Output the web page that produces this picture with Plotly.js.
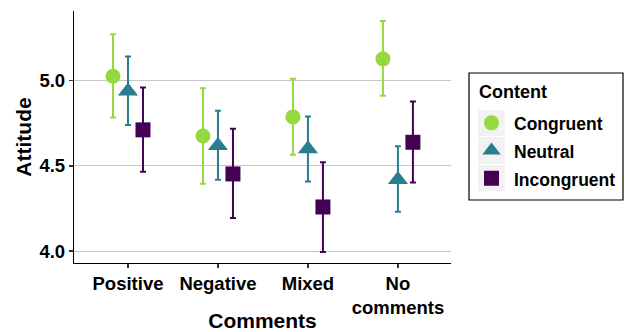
<!DOCTYPE html>
<html><head><meta charset="utf-8">
<script src="https://cdn.plot.ly/plotly-3.0.1.min.js"></script>
<style>html,body{margin:0;padding:0;background:#fff}#chart{width:627px;height:332px}</style>
</head><body><div id="chart"></div>
<script>
var categories = ["Positive", "Negative", "Mixed", "No comments"];
var tickLabels = ["Positive", "Negative", "Mixed", "No<br>comments"];
var contents = ["Congruent", "Neutral", "Incongruent"];
var congruentMean = [5.027, 4.676, 4.788, 5.129];
var congruentHi   = [5.274, 4.957, 5.012, 5.351];
var congruentLo   = [4.784, 4.396, 4.566, 4.912];
var neutralMean = [4.939, 4.619, 4.600, 4.419];
var neutralHi   = [5.143, 4.824, 4.790, 4.615];
var neutralLo   = [4.741, 4.419, 4.409, 4.231];
var incongruentMean = [4.712, 4.453, 4.259, 4.639];
var incongruentHi   = [4.960, 4.718, 4.521, 4.878];
var incongruentLo   = [4.466, 4.194, 3.994, 4.403];

var colors = ["#95D840", "#287D8E", "#440154"];
var symbols = ["circle", "triangle-up", "square"];
var sizes = [15, 17.5, 15];
var dodge = [-1/6, 0, 1/6];
var means = [congruentMean, neutralMean, incongruentMean];
var his = [congruentHi, neutralHi, incongruentHi];
var los = [congruentLo, neutralLo, incongruentLo];

var FONT = "Liberation Sans, Arial, Helvetica, sans-serif";
var traces = contents.map(function(name, k){
  var m = means[k];
  return {
    type: "scatter", mode: "markers",
    name: '<span style="font-size:17.5px">' + name + '</span>',
    x: categories.map(function(c, i){ return i + dodge[k]; }),
    y: m,
    marker: {symbol: symbols[k], size: sizes[k], color: colors[k]},
    error_y: {type: "data", symmetric: false,
      array: his[k].map(function(v, i){ return v - m[i]; }),
      arrayminus: los[k].map(function(v, i){ return m[i] - v; }),
      color: colors[k], thickness: 2, width: 3},
    hoverinfo: "x+y"
  };
});

// legend frame and key backgrounds (pixel boxes converted to paper coords)
function px2x(p){ return (p - 74) / 377; }
function px2y(p){ return (263 - p) / 252; }
var keyRows = [[110, 136], [137, 164], [165, 191]];
var shapes = keyRows.map(function(r){
  return {type: "rect", xref: "paper", yref: "paper", layer: "above",
    x0: px2x(478), x1: px2x(505), y0: px2y(r[1]), y1: px2y(r[0]),
    fillcolor: "#f2f2f2", line: {width: 0}};
});
shapes.push({type: "rect", xref: "paper", yref: "paper", layer: "above",
  x0: px2x(469), x1: px2x(623), y0: px2y(200), y1: px2y(73),
  fillcolor: "rgba(0,0,0,0)", line: {width: 1.2, color: "#000"}});

var layout = {
  width: 627, height: 332,
  margin: {l: 74, r: 176, t: 11, b: 69, autoexpand: false},
  paper_bgcolor: "#fff", plot_bgcolor: "#fff",
  font: {family: FONT, color: "#000"},
  showlegend: true,
  shapes: shapes,
  annotations: [{text: "<b>Content</b>", xref: "paper", yref: "paper",
    x: px2x(477), y: px2y(92), xanchor: "left", yanchor: "middle", showarrow: false,
    font: {size: 18, family: FONT, color: "#000"}}],
  xaxis: {
    range: [-0.6, 3.59], tickmode: "array",
    tickvals: categories.map(function(c, i){ return i; }), ticktext: tickLabels,
    showgrid: false, zeroline: false, showline: true, linecolor: "#000", linewidth: 1.2,
    ticks: "outside", ticklen: 4, tickcolor: "#333", tickwidth: 1.2,
    tickfont: {size: 18.5, family: FONT, color: "#000", weight: "bold"},
    title: {text: "<b>Comments</b>", font: {size: 21, family: FONT, color: "#000"}, standoff: 4}
  },
  yaxis: {
    range: [3.93, 5.41], tickvals: [4.0, 4.5, 5.0], tickformat: ".1f",
    showgrid: true, gridcolor: "#c8c8c8", gridwidth: 1, zeroline: false,
    showline: true, linecolor: "#000", linewidth: 1.2,
    ticks: "outside", ticklen: 4, tickcolor: "#333", tickwidth: 1.2,
    tickfont: {size: 18.5, family: FONT, color: "#000", weight: "bold"},
    title: {text: "<b>Attitude</b>", font: {size: 21, family: FONT, color: "#000"}, standoff: 2}
  },
  legend: {
    x: px2x(469), y: px2y(104), xanchor: "left", yanchor: "top",
    borderwidth: 0, bgcolor: "rgba(0,0,0,0)",
    font: {size: 19, family: FONT, color: "#000", weight: "bold"},
    itemwidth: 35, tracegroupgap: 0
  }
};
Plotly.newPlot("chart", traces, layout, {displayModeBar: false, staticPlot: true});
</script></body></html>
